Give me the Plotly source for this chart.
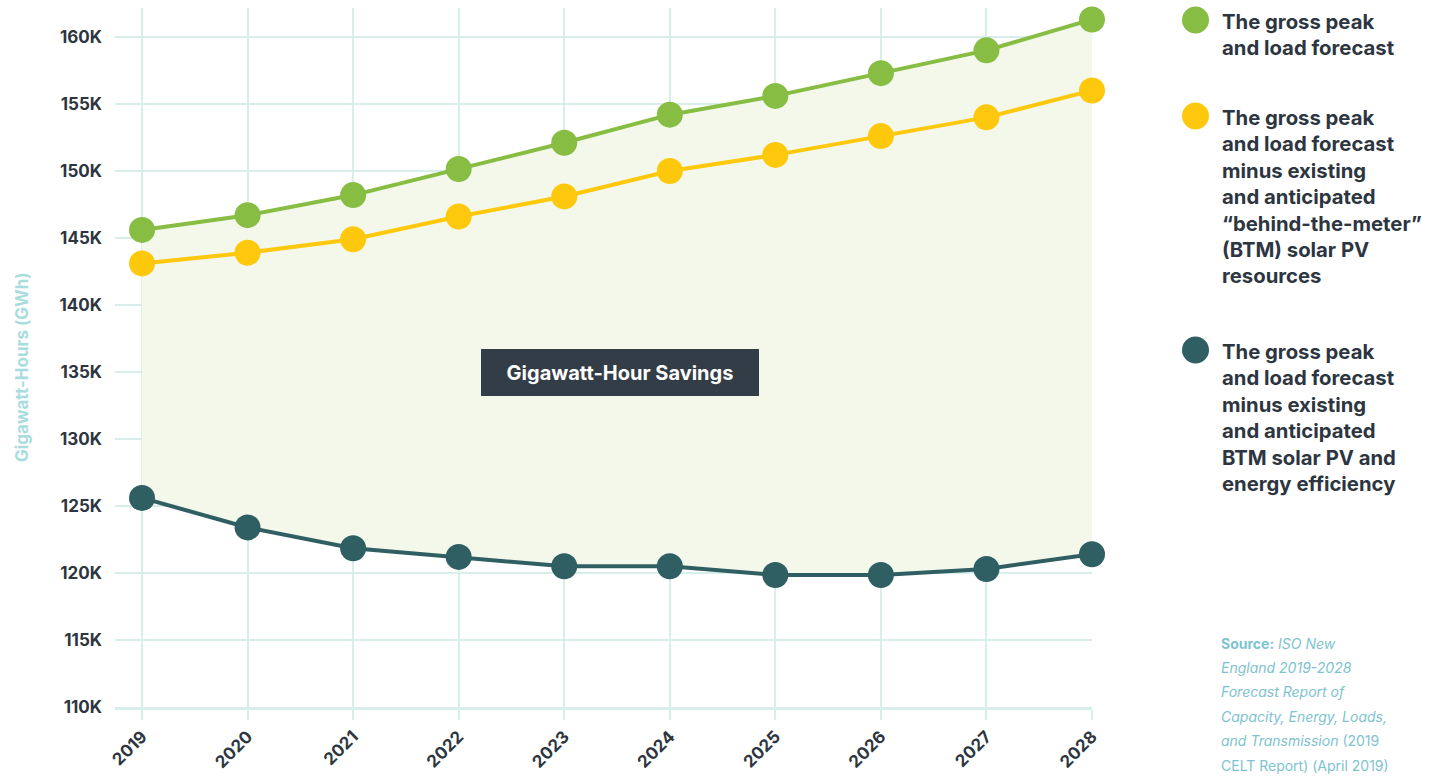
import plotly.graph_objects as go

years = [2019, 2020, 2021, 2022, 2023, 2024, 2025, 2026, 2027, 2028]
gross = [145.6, 146.7, 148.2, 150.15, 152.1, 154.2, 155.6, 157.3, 159.0, 161.3]
minus_btm = [143.1, 143.9, 144.9, 146.6, 148.1, 150.0, 151.2, 152.6, 154.0, 156.0]
minus_btm_ee = [125.6, 123.4, 121.85, 121.2, 120.5, 120.5, 119.85, 119.85, 120.3, 121.4]
y_ticks = [110, 115, 120, 125, 130, 135, 140, 145, 150, 155, 160]
y_labels = [f"{v}K" for v in y_ticks]

legend_texts = [
    "The gross peak<br>and load forecast",
    "The gross peak<br>and load forecast<br>minus existing<br>and anticipated<br>“behind-the-meter”<br>(BTM) solar PV<br>resources",
    "The gross peak<br>and load forecast<br>minus existing<br>and anticipated<br>BTM solar PV and<br>energy efficiency",
]
source_lines = [
    "<b>Source:</b> <i>ISO New</i>",
    "<i>England 2019-2028</i>",
    "<i>Forecast Report of</i>",
    "<i>Capacity, Energy, Loads,</i>",
    "<i>and Transmission</i> (2019",
    "CELT Report) (April 2019)",
]

GREEN = "#86bd42"
YELLOW = "#fec80c"
TEAL = "#2f5f63"
GRID = "#d8eeea"
DARK = "#2d3640"
FONT = "Inter"

W, H = 1432, 776
PLOT_L, PLOT_T, PLOT_W, PLOT_H = 115, 8, 977, 699


def py(y_px):
    return 1 - (y_px - PLOT_T) / PLOT_H


fig = go.Figure()

# savings area: fill between the bottom (teal) line and the top (green) line
fig.add_trace(go.Scatter(x=years, y=minus_btm_ee, mode="lines+markers",
                         line=dict(color=TEAL, width=4),
                         marker=dict(size=26, color=TEAL),
                         cliponaxis=False, showlegend=False))
fig.add_trace(go.Scatter(x=years, y=gross, mode="lines+markers",
                         line=dict(color=GREEN, width=4),
                         marker=dict(size=26, color=GREEN),
                         fill="tonexty", fillcolor="#f3f8eb",
                         cliponaxis=False, showlegend=False))
fig.add_trace(go.Scatter(x=years, y=minus_btm, mode="lines+markers",
                         line=dict(color=YELLOW, width=4),
                         marker=dict(size=26, color=YELLOW),
                         cliponaxis=False, showlegend=False))

fig.add_annotation(x=2023.53, y=134.93, xref="x", yref="y",
                   text="Gigawatt-Hour Savings", showarrow=False,
                   font=dict(family=FONT, size=20, color="white", weight="bold"),
                   bgcolor="#333d47", width=266, height=35, borderpad=5,
                   bordercolor="#333d47")

# y axis title as a rotated annotation
fig.add_annotation(xref="paper", yref="paper", x=0, xshift=22 - PLOT_L,
                   y=py(367), xanchor="center", yanchor="middle", textangle=-90,
                   text="Gigawatt-Hours (GWh)", showarrow=False,
                   font=dict(family=FONT, size=17, color="#a9dcdd", weight="bold"))

# custom legend at the right
legend_y = [20, 116, 350]
legend_cols = [GREEN, YELLOW, TEAL]
for txt, yy, col in zip(legend_texts, legend_y, legend_cols):
    fig.add_shape(type="circle", xref="paper", yref="paper",
                  xsizemode="pixel", ysizemode="pixel",
                  xanchor=1.0, yanchor=py(yy),
                  x0=90, x1=117, y0=-13.5, y1=13.5,
                  fillcolor=col, line=dict(width=0))
    fig.add_annotation(xref="paper", yref="paper", x=1.0, xshift=1220 - 1092,
                       y=py(yy - 13), xanchor="left", yanchor="top",
                       text=txt, align="left", showarrow=False,
                       font=dict(family=FONT, size=20.3, color=DARK, weight="bold"))

for i, line in enumerate(source_lines):
    fig.add_annotation(xref="paper", yref="paper", x=1.0, xshift=1219 - 1092,
                       y=py(643 + i * 24.4), xanchor="left", yanchor="middle",
                       text=line, align="left", showarrow=False,
                       font=dict(family=FONT, size=14, color="#7ec3cf"))

fig.update_xaxes(range=[2018.744, 2028], tickvals=years, tickangle=-45,
                 showgrid=True, gridcolor=GRID, gridwidth=2,
                 ticks="outside", ticklen=10, tickcolor=GRID, tickwidth=2,
                 showline=True, linecolor=GRID, linewidth=3,
                 zeroline=False, automargin=False,
                 tickfont=dict(family=FONT, size=17, color=DARK, weight="bold"))
fig.update_yaxes(range=[110, 162.16], tickvals=y_ticks, ticktext=y_labels,
                 showgrid=True, gridcolor=GRID, gridwidth=2, zeroline=False,
                 ticks="", ticklabelstandoff=12, automargin=False,
                 tickfont=dict(family=FONT, size=17, color=DARK, weight="bold"))

fig.update_layout(width=W, height=H,
                  margin=dict(l=PLOT_L, r=W - (PLOT_L + PLOT_W),
                              t=PLOT_T, b=H - (PLOT_T + PLOT_H)),
                  plot_bgcolor="white", paper_bgcolor="white",
                  font=dict(family=FONT))

# drop the browser's default body margin so the figure fills the window
fig.write_html("out.html", config={"displayModeBar": False},
               post_script="document.body.style.margin = '0px';")
